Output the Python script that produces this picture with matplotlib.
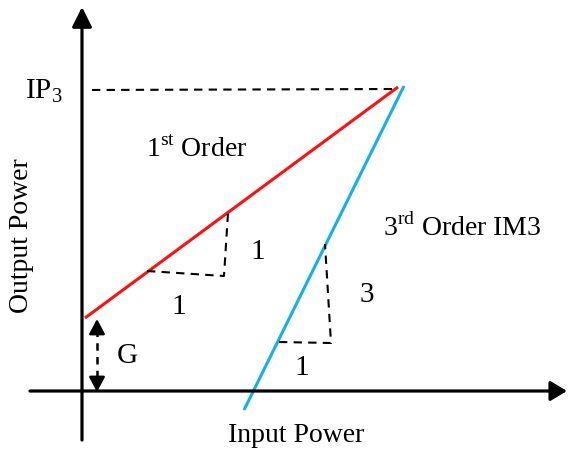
import matplotlib.pyplot as plt

plt.rcParams['font.family'] = ['Liberation Serif', 'DejaVu Serif']

# diagram geometry, in picture units (x to the right, y downwards)
X_AXIS = [(30, 391), (567, 391)]
Y_AXIS = [(82, 440), (82, 7)]
FIRST_ORDER = [(85, 318), (398, 87)]
THIRD_ORDER = [(244, 410), (404, 86)]
IP3_LEVEL = [(92, 90), (396, 89)]
TRI_1 = [(147, 271), (224, 276), (228, 213)]
TRI_3 = [(279, 342), (331, 343), (325, 244)]
GAIN = [(97, 319), (97, 392)]

LABELS = [
    ('1', 179, 307), ('1', 258, 252),
    ('3', 367, 295), ('1', 302, 368),
    ('G', 127, 356),
]

fig = plt.figure(figsize=(5.68, 4.5), dpi=100)
ax = fig.add_axes([0, 0, 1, 1])
ax.set_xlim(0, 568)
ax.set_ylim(450, 0)
ax.axis('off')

def arrow(p0, p1, hl=0.6, hw=0.3, lw=2.3, ms=20):
    ax.annotate('', xy=p1, xytext=p0,
                arrowprops=dict(arrowstyle='-|>,head_length=%s,head_width=%s' % (hl, hw),
                                mutation_scale=ms, lw=lw, color='black',
                                shrinkA=0, shrinkB=0))

arrow(*X_AXIS, hl=0.5, hw=0.3)
arrow(*Y_AXIS)

ax.plot(*zip(*FIRST_ORDER), color='#ff1010', lw=2.2, solid_capstyle='butt')
ax.plot(*zip(*THIRD_ORDER), color='#14b0e8', lw=2.2, solid_capstyle='butt')
ax.plot(*zip(*IP3_LEVEL), color='black', lw=1.5, ls=(0, (4, 3)))
ax.plot(*zip(*TRI_1), color='black', lw=1.5, ls=(0, (4, 3)))
ax.plot(*zip(*TRI_3), color='black', lw=1.5, ls=(0, (4, 3)))

# gain: dashed shaft with solid heads at both ends
(gx, gy0), (_, gy1) = GAIN
ax.plot([gx, gx], [gy0 + 10, gy1 - 10], color='black', lw=1.8, ls=(0, (3, 2.5)))
arrow((gx, gy0 + 12), GAIN[0], hl=0.45, hw=0.24, lw=1.8)
arrow((gx, gy1 - 12), GAIN[1], hl=0.45, hw=0.24, lw=1.8)

fs = 20
for t, x, y in LABELS:
    ax.text(x, y, t, fontsize=fs + 1, ha='center', va='center')

ax.text(63, 91, r'IP$_{\mathregular{3}}$', fontsize=fs + 1, ha='right', va='center')
ax.text(146, 150, r'1$^{\mathregular{st}}$ Order', fontsize=fs, ha='left', va='center')
ax.text(383, 228, r'3$^{\mathregular{rd}}$ Order IM3', fontsize=fs, ha='left', va='center')
ax.text(22, 236, 'Output Power', fontsize=fs, ha='center', va='center', rotation=90)
ax.text(296, 435, 'Input Power', fontsize=fs, ha='center', va='center')

fig.savefig('out.png', dpi=100)
